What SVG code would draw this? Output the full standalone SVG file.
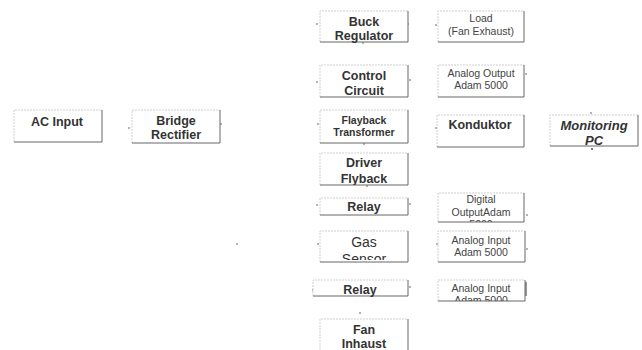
<svg xmlns="http://www.w3.org/2000/svg" width="642" height="350" viewBox="0 0 642 350">
<style>
.bg{fill:#ffffff;stroke:none}
.tl{fill:none;stroke:#cfcfcf;stroke-width:1;stroke-dasharray:2 1}
.br{fill:none;stroke:#666666;stroke-width:1}
.t{font-family:"Liberation Sans",Arial,sans-serif;font-size:12.5px;font-weight:bold;fill:#333;text-anchor:middle}
.s{font-family:"Liberation Sans",Arial,sans-serif;font-size:10.5px;fill:#444;text-anchor:middle}
.g{font-family:"Liberation Sans",Arial,sans-serif;font-size:14px;fill:#333;text-anchor:middle}
.i{font-family:"Liberation Sans",Arial,sans-serif;font-size:13px;font-weight:bold;font-style:italic;fill:#333;text-anchor:middle}
.dot{fill:#555}
</style>
<defs>
<clipPath id="cDig"><rect x="438" y="193" width="86" height="29"/></clipPath>
<clipPath id="cGas"><rect x="320" y="231" width="88" height="29"/></clipPath>
<clipPath id="cAi2"><rect x="438" y="280" width="89" height="21"/></clipPath>
<clipPath id="cDrv"><rect x="320" y="153" width="88" height="32"/></clipPath>
</defs>
<rect width="642" height="350" fill="#ffffff"/>

<g id="connectors">
<circle class="dot" cx="129" cy="128" r="0.8"/>
<circle class="dot" cx="221" cy="124" r="0.8"/>
<circle class="dot" cx="317" cy="24" r="0.8"/>
<circle class="dot" cx="408" cy="24" r="0.8"/>
<circle class="dot" cx="363" cy="43" r="0.8"/>
<circle class="dot" cx="436" cy="25" r="0.8"/>
<circle class="dot" cx="317" cy="82" r="0.8"/>
<circle class="dot" cx="410" cy="80" r="0.8"/>
<circle class="dot" cx="526" cy="74" r="0.8"/>
<circle class="dot" cx="318" cy="124" r="0.8"/>
<circle class="dot" cx="364" cy="144" r="0.8"/>
<circle class="dot" cx="436" cy="128" r="0.8"/>
<circle class="dot" cx="591" cy="113" r="0.8"/>
<circle class="dot" cx="592" cy="149" r="1"/>
<circle class="dot" cx="367" cy="186" r="0.8"/>
<circle class="dot" cx="317" cy="205" r="0.8"/>
<circle class="dot" cx="410" cy="204" r="0.8"/>
<circle class="dot" cx="527" cy="215" r="0.8"/>
<circle class="dot" cx="318" cy="244" r="0.8"/>
<circle class="dot" cx="437" cy="244" r="0.8"/>
<circle class="dot" cx="527" cy="249" r="0.8"/>
<circle class="dot" cx="237" cy="244" r="0.8"/>
<circle class="dot" cx="313" cy="290" r="0.8"/>
<circle class="dot" cx="410" cy="287" r="0.8"/>
<path d="M526 282 V296" stroke="#333" stroke-width="1"/>
<circle class="dot" cx="360" cy="313" r="0.8"/>
</g>

<g id="ac-input">
<rect class="bg" x="14" y="110" width="88" height="32"/>
<path class="tl" d="M14 142 V110 H102"/><path class="br" d="M102 110 V142 H14"/>
<text class="t" x="57" y="126">AC Input</text>
</g>

<g id="bridge-rectifier">
<rect class="bg" x="132" y="110" width="88" height="33"/>
<path class="tl" d="M132 143 V110 H220"/><path class="br" d="M220 110 V143 H132"/>
<text class="t" x="176" y="125">Bridge</text>
<text class="t" x="176" y="139">Rectifier</text>
</g>

<g id="buck-regulator">
<rect class="bg" x="320" y="11" width="88" height="31"/>
<path class="tl" d="M320 42 V11 H408"/><path class="br" d="M408 11 V42 H320"/>
<text class="t" x="364" y="26">Buck</text>
<text class="t" x="364" y="40">Regulator</text>
</g>

<g id="load">
<rect class="bg" x="438" y="11" width="86" height="31"/>
<path class="tl" d="M438 42 V11 H524"/><path class="br" d="M524 11 V42 H438"/>
<text class="s" x="481" y="22">Load</text>
<text class="s" x="481" y="35">(Fan Exhaust)</text>
</g>

<g id="control-circuit">
<rect class="bg" x="320" y="65" width="88" height="32"/>
<path class="tl" d="M320 97 V65 H408"/><path class="br" d="M408 65 V97 H320"/>
<text class="t" x="364" y="80">Control</text>
<text class="t" x="364" y="95">Circuit</text>
</g>

<g id="analog-output">
<rect class="bg" x="438" y="65" width="86" height="32"/>
<path class="tl" d="M438 97 V65 H524"/><path class="br" d="M524 65 V97 H438"/>
<text class="s" x="481" y="77">Analog Output</text>
<text class="s" x="481" y="89">Adam 5000</text>
</g>

<g id="flayback-transformer">
<rect class="bg" x="320" y="110" width="88" height="33"/>
<path class="tl" d="M320 143 V110 H408"/><path class="br" d="M408 110 V143 H320"/>
<text class="t" x="364" y="124" style="font-size:10.5px">Flayback</text>
<text class="t" x="364" y="136" style="font-size:10.5px">Transformer</text>
</g>

<g id="konduktor">
<rect class="bg" x="437" y="115" width="87" height="32"/>
<path class="tl" d="M437 147 V115 H524"/><path class="br" d="M524 115 V147 H437"/>
<text class="t" x="480" y="129">Konduktor</text>
</g>

<g id="monitoring-pc">
<rect class="bg" x="550" y="115" width="88" height="31"/>
<path class="tl" d="M550 146 V115 H638"/><path class="br" d="M638 115 V146 H550"/>
<text class="i" x="594" y="130">Monitoring</text>
<text class="i" x="594" y="145">PC</text>
</g>

<g id="driver-flyback">
<rect class="bg" x="320" y="153" width="88" height="32"/>
<path class="tl" d="M320 185 V153 H408"/><path class="br" d="M408 153 V185 H320"/>
<g clip-path="url(#cDrv)">
<text class="t" x="364" y="167">Driver</text>
<text class="t" x="364" y="183">Flyback</text>
</g>
</g>

<g id="relay-1">
<rect class="bg" x="320" y="198" width="88" height="17"/>
<path class="tl" d="M320 215 V198 H408"/><path class="br" d="M408 198 V215 H320"/>
<text class="t" x="364" y="211">Relay</text>
</g>

<g id="digital-output">
<rect class="bg" x="438" y="193" width="86" height="29"/>
<path class="tl" d="M438 222 V193 H524"/><path class="br" d="M524 193 V222 H438"/>
<g clip-path="url(#cDig)">
<text class="s" x="481" y="203">Digital</text>
<text class="s" x="481" y="216">OutputAdam</text>
<text class="s" x="481" y="228">5000</text>
</g>
</g>

<g id="gas-sensor">
<rect class="bg" x="320" y="231" width="88" height="31"/>
<path class="tl" d="M320 262 V231 H408"/><path class="br" d="M408 231 V262 H320"/>
<g clip-path="url(#cGas)">
<text class="g" x="364" y="247">Gas</text>
<text class="g" x="364" y="264">Sensor</text>
</g>
</g>

<g id="analog-input-1">
<rect class="bg" x="438" y="231" width="87" height="31"/>
<path class="tl" d="M438 262 V231 H525"/><path class="br" d="M525 231 V262 H438"/>
<text class="s" x="481" y="244">Analog Input</text>
<text class="s" x="481" y="256">Adam 5000</text>
</g>

<g id="relay-2">
<rect class="bg" x="313" y="280" width="95" height="16"/>
<path class="tl" d="M313 296 V280 H408"/><path class="br" d="M408 280 V296 H313"/>
<text class="t" x="360" y="294">Relay</text>
</g>

<g id="analog-input-2">
<rect class="bg" x="438" y="280" width="87" height="21"/>
<path class="tl" d="M438 301 V280 H525"/><path class="br" d="M525 280 V301 H438"/>
<g clip-path="url(#cAi2)">
<text class="s" x="481" y="292">Analog Input</text>
<text class="s" x="481" y="304">Adam 5000</text>
</g>
</g>

<g id="fan-inhaust">
<rect class="bg" x="320" y="319" width="88" height="32"/>
<path class="tl" d="M320 351 V319 H408"/><path class="br" d="M408 319 V351"/>
<text class="t" x="364" y="334">Fan</text>
<text class="t" x="364" y="348">Inhaust</text>
</g>
</svg>
